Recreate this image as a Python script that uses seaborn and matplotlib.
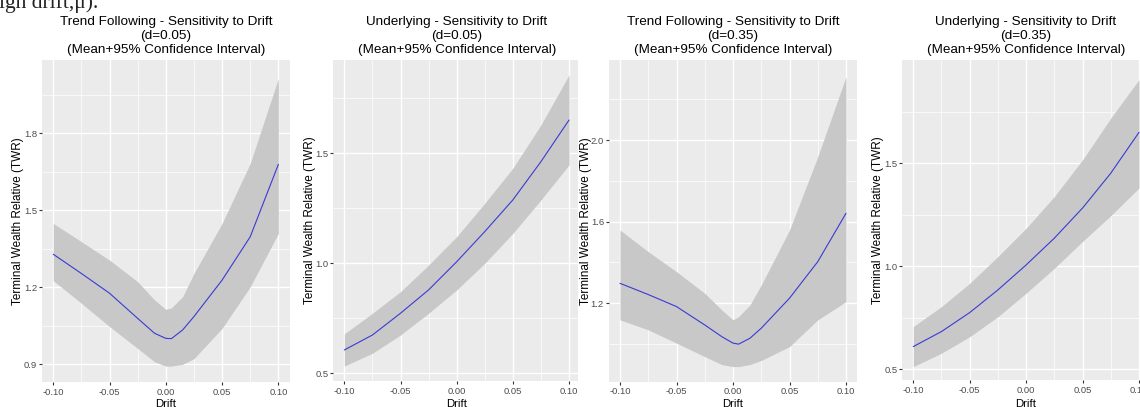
import matplotlib
matplotlib.use("Agg")
import matplotlib.pyplot as plt
import seaborn as sns
import pandas as pd

# ---- data: drift grid and mean / 95% CI of terminal wealth relative ----
tf_drift = [-0.10, -0.075, -0.05, -0.025, -0.01, 0.0, 0.005, 0.015, 0.025, 0.05, 0.075, 0.10]
ul_drift = [-0.10, -0.075, -0.05, -0.025, 0.0, 0.025, 0.05, 0.075, 0.10]

tf05_mean = [1.329, 1.254, 1.177, 1.079, 1.021, 1.001, 1.000, 1.034, 1.086, 1.228, 1.397, 1.679]
tf05_upper = [1.449, 1.378, 1.306, 1.222, 1.151, 1.114, 1.120, 1.164, 1.254, 1.449, 1.683, 2.014]
tf05_lower = [1.226, 1.138, 1.047, 0.962, 0.910, 0.893, 0.893, 0.900, 0.922, 1.040, 1.202, 1.410]

ul05_mean = [0.606, 0.674, 0.773, 0.879, 1.007, 1.144, 1.288, 1.462, 1.651]
ul05_upper = [0.679, 0.773, 0.871, 0.992, 1.121, 1.273, 1.432, 1.629, 1.856]
ul05_lower = [0.533, 0.591, 0.674, 0.773, 0.879, 1.000, 1.136, 1.288, 1.447]

tf35_mean = [1.298, 1.243, 1.184, 1.094, 1.037, 1.005, 1.000, 1.029, 1.078, 1.225, 1.404, 1.641]
tf35_upper = [1.559, 1.453, 1.355, 1.249, 1.168, 1.119, 1.135, 1.192, 1.290, 1.559, 1.918, 2.310]
tf35_lower = [1.119, 1.070, 1.005, 0.939, 0.900, 0.890, 0.890, 0.900, 0.920, 0.988, 1.119, 1.208]

ul35_mean = [0.610, 0.683, 0.775, 0.885, 1.006, 1.136, 1.282, 1.451, 1.649]
ul35_upper = [0.707, 0.804, 0.917, 1.047, 1.184, 1.338, 1.516, 1.718, 1.905]
ul35_lower = [0.513, 0.578, 0.658, 0.755, 0.869, 0.990, 1.120, 1.245, 1.379]

titles = [
    "Trend Following - Sensitivity to Drift\n(d=0.05)\n(Mean+95% Confidence Interval)",
    "Underlying - Sensitivity to Drift\n(d=0.05)\n(Mean+95% Confidence Interval)",
    "Trend Following - Sensitivity to Drift\n(d=0.35)\n(Mean+95% Confidence Interval)",
    "Underlying - Sensitivity to Drift\n(d=0.35)\n(Mean+95% Confidence Interval)",
]
x_ticks = [-0.10, -0.05, 0.00, 0.05, 0.10]
x_minor = [-0.075, -0.025, 0.025, 0.075]
y_ticks = [[0.9, 1.2, 1.5, 1.8], [0.5, 1.0, 1.5], [1.2, 1.6, 2.0], [0.5, 1.0, 1.5]]
y_minor = [[1.05, 1.35, 1.65, 1.95], [0.75, 1.25, 1.75], [1.0, 1.4, 1.8, 2.2], [0.75, 1.25, 1.75]]
x_label = "Drift"
y_label = "Terminal Wealth Relative (TWR)"
intro_text = "igh drift,\u03bc)."

panels = [
    (tf_drift, tf05_mean, tf05_lower, tf05_upper),
    (ul_drift, ul05_mean, ul05_lower, ul05_upper),
    (tf_drift, tf35_mean, tf35_lower, tf35_upper),
    (ul_drift, ul35_mean, ul35_lower, ul35_upper),
]

# ---- style ----
sns.set_theme(style="darkgrid", rc={
    "axes.facecolor": "#EBEBEB",
    "figure.facecolor": "white",
    "grid.color": "white",
    "axes.edgecolor": "none",
})
plt.rcParams["font.family"] = ["Liberation Sans", "DejaVu Sans"]

W, H = 1140, 407
fig = plt.figure(figsize=(W / 100, H / 100), dpi=100)


def box(left, right, top, bottom):
    return [left / W, 1 - bottom / H, (right - left) / W, (bottom - top) / H]


# panel geometry in pixels: left, right, top, bottom, xlim, ylim, title centre, y-label x
layout = [
    (42.0, 289.6, 60.0, 382.0, (-0.11, 0.11), (0.831, 2.086), 165.8, 18.5),
    (333.1, 578.0, 60.0, 381.0, (-0.11, 0.108), (0.465, 1.924), 456.7, 309.5),
    (608.7, 857.3, 60.0, 381.7, (-0.11, 0.11), (0.816, 2.392), 733.0, 585.5),
    (902.0, 1140.0, 60.0, 380.0, (-0.11, 0.1009), (0.448, 2.0), 1026.0, 877.5),
]

for i, ((xs, mean, lo, hi), (l, r, t, b, xl, yl, cx, ylx)) in enumerate(zip(panels, layout)):
    ax = fig.add_axes(box(l, r, t, b))
    df = pd.DataFrame({"drift": xs, "mean": mean, "lower": lo, "upper": hi})
    ax.fill_between(df["drift"], df["lower"], df["upper"], color="#C8C8C8", lw=0, zorder=2)
    sns.lineplot(data=df, x="drift", y="mean", ax=ax, color="#3A3AD6", lw=0.8, zorder=3)
    ax.set_xlim(*xl)
    ax.set_ylim(*yl)
    ax.set_xticks(x_ticks)
    ax.set_xticklabels([f"{v:.2f}" for v in x_ticks])
    ax.set_xticks(x_minor, minor=True)
    ax.set_yticks(y_ticks[i])
    ax.set_yticklabels([f"{v:.1f}" for v in y_ticks[i]])
    ax.set_yticks(y_minor[i], minor=True)
    ax.grid(which="major", color="white", lw=1.0)
    ax.grid(which="minor", color="white", lw=0.5)
    ax.set_axisbelow(True)
    ax.tick_params(which="major", length=2.2, width=0.8, color="#333333",
                   labelsize=6.8, labelcolor="#4D4D4D", bottom=True, left=True)
    ax.tick_params(axis="x", pad=1.8)
    ax.tick_params(axis="y", pad=1.2)
    ax.tick_params(which="minor", length=0)
    ax.set_xlabel("")
    ax.set_ylabel("")
    for s in ax.spines.values():
        s.set_visible(False)

    # three-line centred title over the full panel width
    for line, base in zip(titles[i].split("\n"), (25.5, 39.0, 52.5)):
        fig.text(cx / W, 1 - base / H, line, ha="center", va="baseline",
                 fontsize=9.7, color="black")
    # axis titles
    fig.text(ylx / W, 1 - ((t + b) / 2) / H, y_label, rotation=90,
             ha="center", va="center", fontsize=8.5, color="black")
    fig.text(cx / W, 1 - 407.5 / H, x_label, ha="center", va="baseline",
             fontsize=8.2, color="black")

fig.text(-1 / W, 1 - 8 / H, intro_text, ha="left", va="baseline",
         fontsize=15.5, color="#222222", family=["Liberation Serif", "DejaVu Serif"])

fig.savefig("out.png", dpi=100)
